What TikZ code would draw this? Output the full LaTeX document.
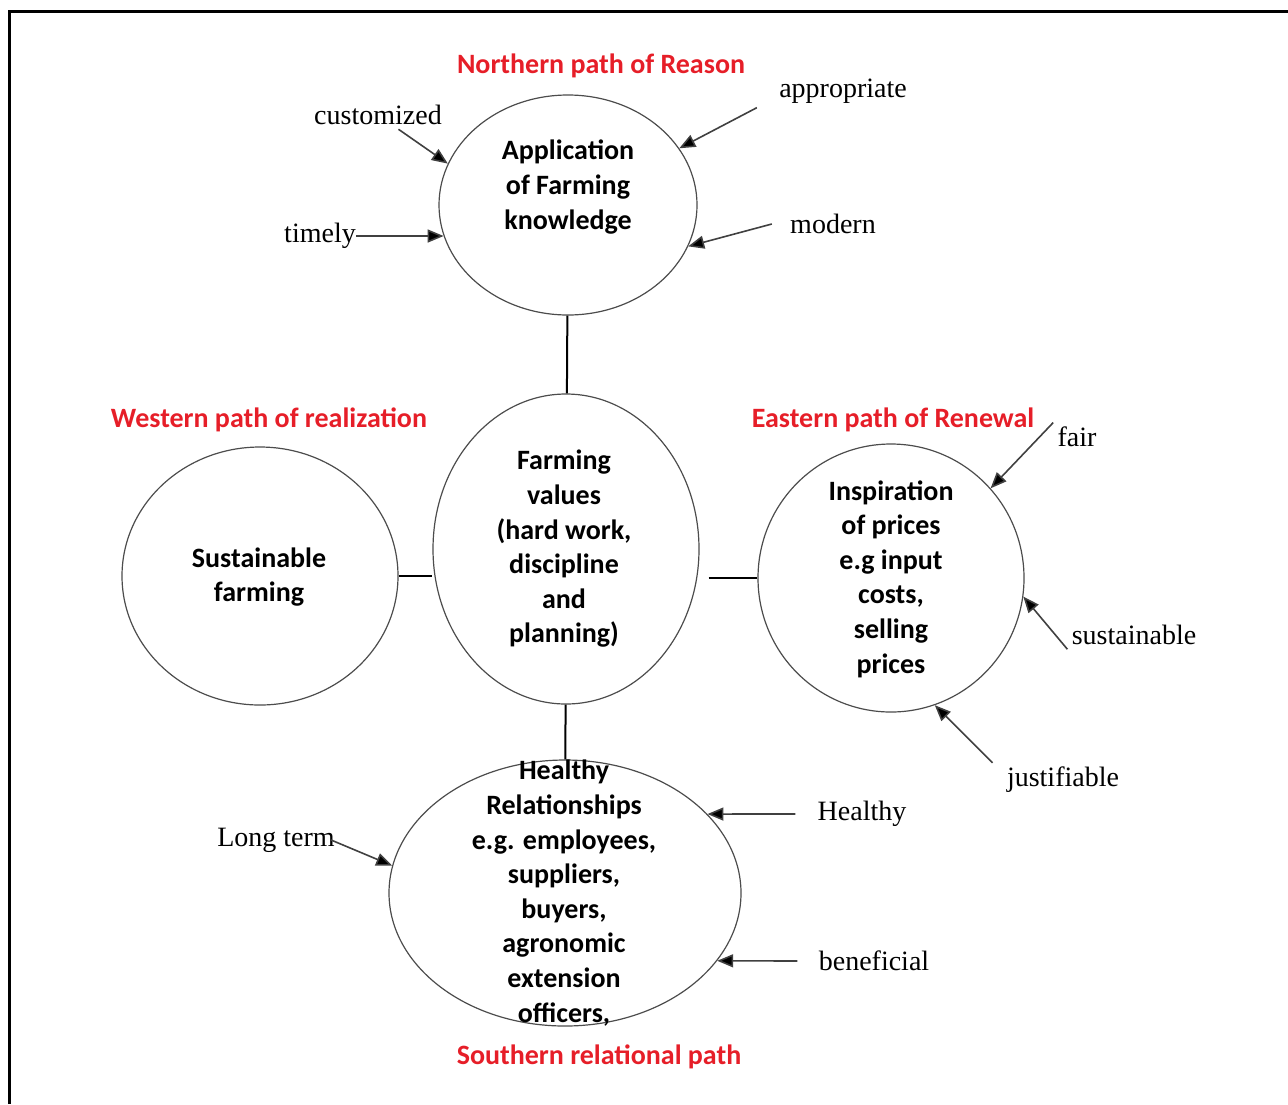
\documentclass[tikz,border=0pt]{standalone}
\usepackage{fontspec}
\setmainfont{Liberation Serif}
\newfontfamily\calib{Carlito}
\usetikzlibrary{shapes.geometric,arrows.meta}
\definecolor{pathred}{RGB}{230,30,40}

\begin{document}
\begin{tikzpicture}[x=0.5pt,y=-0.5pt,
    ring/.style={ellipse, draw=black!70, line width=0.6pt, inner sep=0pt},
    inside/.style={font=\calib\bfseries\fontsize{14}{17.3}\selectfont, align=center, inner sep=0pt},
    pathname/.style={font=\calib\bfseries\fontsize{14}{17}\selectfont, text=pathred},
    word/.style={font=\fontsize{14}{16}\selectfont, inner sep=2pt},
    link/.style={line width=1pt},
    push/.style={draw=black!75, line width=0.8pt, -{Triangle[length=8pt,width=6.5pt,fill=black]}}]

\useasboundingbox (0,0) rectangle (1288,1104);
\draw[line width=1.5pt] (9,1104) -- (9,11) -- (1288,11);

% the five paths
\node[ring, minimum width=129pt, minimum height=110pt] (north) at (568,205) {};
\node[ring, minimum width=133pt, minimum height=155pt] (center) at (566,549) {};
\node[ring, minimum width=138pt, minimum height=129pt] (west) at (260,576) {};
\node[ring, minimum width=133pt, minimum height=134pt] (east) at (891,578) {};
\node[ring, minimum width=176pt, minimum height=133pt] (south) at (565,893) {};

\node[inside] (northtxt) at (568,187) {Application\\of Farming\\knowledge};
\node[inside] (centertxt) at (564,549) {Farming\\values\\(hard work,\\discipline\\and\\planning)};
\node[inside] (westtxt) at (259,577) {Sustainable\\farming};
\node[inside] (easttxt) at (891,579) {Inspiration\\of prices\\e.g input\\costs,\\selling\\prices};
\node[inside] (southtxt) at (564,893) {Healthy\\Relationships\\e.g. employees,\\suppliers,\\buyers,\\agronomic\\extension\\officers,};

\node[pathname] (northname) at (601,66) {Northern path of Reason};
\node[pathname] (westname) at (269,420) {Western path of realization};
\node[pathname] (eastname) at (893,420) {Eastern path of Renewal};
\node[pathname] (southname) at (599,1057) {Southern relational path};

\draw[link] (north) -- (center);
\draw[link] (west.east) -- (west.east -| center.west);
\draw[link] ([xshift=4.5pt]east.west -| center.east) -- (east.west);
\draw[link] (center) -- (south);

% qualities pointing in
\node[word] (cust) at (378,115) {customized};
\node[word] (timely) at (320,236) {timely};
\node[word] (appr) at (843,91) {appropriate};
\node[word] (modern) at (833,224) {modern};
\node[word] (fair) at (1077,437) {fair};
\node[word] (sust) at (1134,635) {sustainable};
\node[word] (just) at (1063,780) {justifiable};
\node[word] (healthy) at (862,814) {Healthy};
\node[word] (benef) at (874,961) {beneficial};
\node[word] (long) at (276,840) {Long term};

\draw[push] ([xshift=-2pt]timely.east) -- (north.194);
\draw[push] (cust) -- (north.161);
\draw[push] ([xshift=-9pt]appr.south west) -- (north.27);
\draw[push] ([xshift=-7pt]modern.west) -- (north.341);
\draw[push] (fair.north west) -- (east.42);
\draw[push] (sust.south west) -- (east.352);
\draw[push] ([xshift=-5pt]just.north west) -- (east.289);
\draw[push] ([xshift=-9pt]healthy.west) -- (south.29);
\draw[push] ([xshift=-8.5pt]benef.west) -- (south.336);
\draw[push] ([xshift=-4pt]long.east) -- (south.171);

\end{tikzpicture}
\end{document}
